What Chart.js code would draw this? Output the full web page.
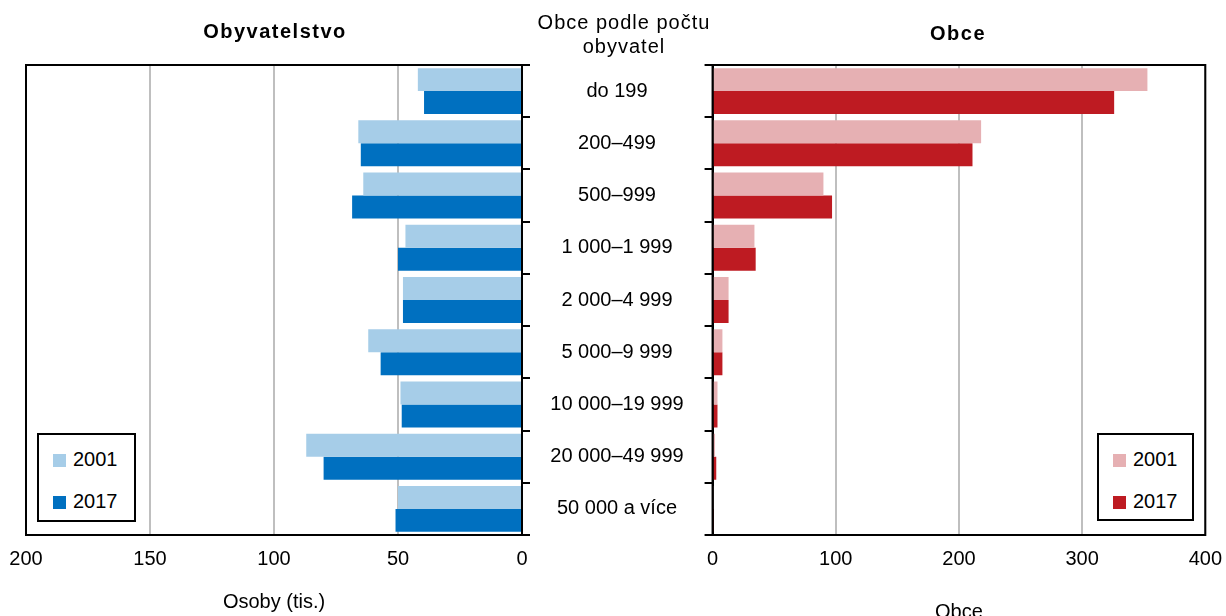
<!DOCTYPE html>
<html>
<head>
<meta charset="utf-8">
<script src="https://cdn.jsdelivr.net/npm/chart.js@4"></script>
<style>
  body { margin: 0; background: #fff; font-family: "Liberation Sans", Arial, sans-serif; }
  #wrap { position: relative; width: 1226px; height: 616px; overflow: hidden; }
  .box { position: absolute; }
  .title { position: absolute; font-weight: bold; font-size: 20px; letter-spacing: 1.5px; color: #000; transform: translate(-50%, -50%); white-space: nowrap; }
  .head { position: absolute; font-size: 20px; letter-spacing: 1px; color: #000; text-align: center; line-height: 24px; transform: translateX(-50%); white-space: nowrap; }
  .legend { position: absolute; border: 2px solid #000; box-sizing: border-box; background: #fff; }
  .legend .item { position: absolute; font-size: 20px; line-height: 20px; white-space: nowrap; }
  .legend .sw { display: inline-block; width: 13px; height: 13px; margin-right: 7px; vertical-align: -1px; }
</style>
</head>
<body>
<div id="wrap">
  <div class="box" style="left:0;top:0;width:712px;height:616px"><canvas id="left-chart"></canvas></div>
  <div class="box" style="left:695px;top:0;width:539px;height:616px"><canvas id="right-chart"></canvas></div>
  <div class="title" style="left:275px;top:31px">Obyvatelstvo</div>
  <div class="title" style="left:958px;top:33px">Obce</div>
  <div class="head" style="left:624px;top:10px">Obce podle počtu<br>obyvatel</div>
  <div class="legend" id="left-legend" style="left:37px;top:433px;width:99px;height:89px"></div>
  <div class="legend" id="right-legend" style="left:1097px;top:433px;width:97px;height:88px"></div>
</div>
<script>
const categories = ["do 199", "200–499", "500–999", "1 000–1 999", "2 000–4 999",
  "5 000–9 999", "10 000–19 999", "20 000–49 999", "50 000 a více"];
const years = ["2001", "2017"];

// obyvatelstvo (tis. osob)
const pop2001 = [42, 66, 64, 47, 48, 62, 49, 87, 50];
const pop2017 = [39.5, 65, 68.5, 50, 48, 57, 48.5, 80, 51];

// pocet obci
const obce2001 = [353, 218, 90, 34, 13, 8, 4, 2, 1];
const obce2017 = [326, 211, 97, 35, 13, 8, 4, 3, 1];

const popTicks = [0, 50, 100, 150, 200];
const obceTicks = [0, 100, 200, 300, 400];

const FONT = { family: '"Liberation Sans", Arial, sans-serif', size: 20 };

/* frame around the plot area + category labels in the middle */
const framePlugin = {
  id: "frame",
  afterDraw(chart, args, opts) {
    const { ctx, chartArea } = chart;
    ctx.save();
    ctx.strokeStyle = "#000";
    ctx.lineWidth = 2;
    ctx.strokeRect(chartArea.left, chartArea.top, chartArea.right - chartArea.left, chartArea.bottom - chartArea.top);
    if (opts.labels) {
      const yScale = chart.scales.y;
      ctx.fillStyle = "#000";
      ctx.font = `${FONT.size}px ${FONT.family}`;
      ctx.textAlign = "center";
      ctx.textBaseline = "middle";
      chart.data.labels.forEach((lab, i) => {
        ctx.fillText(lab, chartArea.right + 95, yScale.getPixelForValue(i));
      });
    }
    ctx.restore();
  }
};

const makeChart = (canvasId, d1, d2, colors, ticks, side, axisTitle) => {
  const isLeft = side === "left";
  return new Chart(document.getElementById(canvasId), {
    type: "bar",
    data: {
      labels: categories,
      datasets: [
        { label: years[0], data: d1, backgroundColor: colors[0] },
        { label: years[1], data: d2, backgroundColor: colors[1] },
      ],
    },
    plugins: [framePlugin],
    options: {
      indexAxis: "y",
      responsive: true,
      maintainAspectRatio: false,
      animation: false,
      datasets: { bar: { categoryPercentage: 0.88, barPercentage: 1.0, borderWidth: 0 } },
      layout: { padding: isLeft ? { left: 26, top: 65, right: 0, bottom: 0 } : { left: 0, top: 65, right: 13, bottom: 0 } },
      plugins: {
        legend: { display: false },
        tooltip: { enabled: false },
        frame: { labels: isLeft },
      },
      scales: {
        x: {
          min: ticks[0],
          max: ticks[ticks.length - 1],
          reverse: isLeft,
          afterBuildTicks: (scale) => { scale.ticks = ticks.map(v => ({ value: v })); },
          afterFit: (scale) => { scale.height = 81; },
          ticks: { font: FONT, color: "#000", padding: 12, maxRotation: 0, autoSkip: false },
          grid: { color: "#bfbfbf", lineWidth: 2, drawTicks: false },
          border: { display: true, color: "#000", width: 2 },
          title: { display: true, text: axisTitle, font: FONT, color: "#000", padding: isLeft ? { top: 0, bottom: 2 } : { top: 0, bottom: -8 } },
        },
        y: {
          position: isLeft ? "right" : "left",
          afterFit: (scale) => { scale.width = isLeft ? 190 : 12; },
          ticks: { display: false },
          grid: { drawOnChartArea: false, offset: true, tickLength: 8, color: "#000", lineWidth: 2 },
          border: { display: true, color: "#000", width: 2 },
        },
      },
    },
  });
};

const leftChart = makeChart("left-chart", pop2001, pop2017, ["#a6cde8", "#0070c0"], popTicks, "left", "Osoby (tis.)");
const rightChart = makeChart("right-chart", obce2001, obce2017, ["#e6b0b3", "#be1b22"], obceTicks, "right", "Obce");

/* legend boxes built from the datasets */
const buildLegend = (chart, el) => {
  chart.data.datasets.forEach((ds, i) => {
    const item = document.createElement("div");
    item.className = "item";
    item.style.left = "14px";
    item.style.top = (i === 0 ? 14 : 56) + "px";
    item.innerHTML = `<span class="sw" style="background:${ds.backgroundColor}"></span>${ds.label}`;
    el.appendChild(item);
  });
};
buildLegend(leftChart, document.getElementById("left-legend"));
buildLegend(rightChart, document.getElementById("right-legend"));
</script>
</body>
</html>
